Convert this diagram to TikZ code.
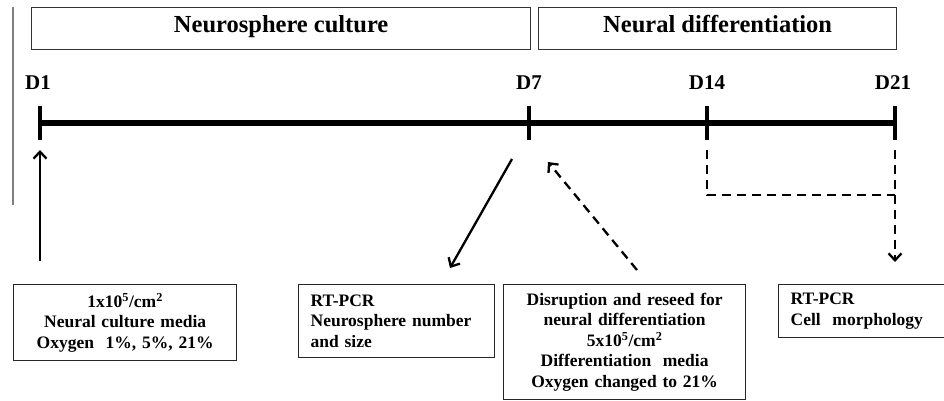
\documentclass[tikz,border=0pt]{standalone}
\usepackage{fontspec}
\setmainfont{Liberation Serif}
\usetikzlibrary{arrows.meta}
\tikzset{
  arr/.style={line width=2.3pt,-{Straight Barb[length=7pt,width=13pt]}},
  darr/.style={arr,dash pattern=on 9pt off 6pt},
  tick/.style={line width=4.5pt},
}

\begin{document}
\begin{tikzpicture}[x=1pt,y=-1pt]
  \clip (0,0) rectangle (944,401);
  \fill[white] (0,0) rectangle (944,401);
  \draw[gray,line width=1.2pt] (13,7) -- (13,205);
  \begin{scope}[every node/.style={draw=black!80,line width=1.3pt,below right,inner sep=0pt,minimum height=42pt,text height=0.82em,text depth=0.08em,font=\bfseries\fontsize{24.5}{28}\selectfont}]
  \node[minimum width=499pt] (hdr1) at (31,7) {Neurosphere culture};
  \node[minimum width=358pt] (hdr2) at (538,7) {Neural differentiation};
  \end{scope}
  \coordinate (t1) at (40,123);
  \coordinate (t7) at (529,123);
  \coordinate (t14) at (707,123);
  \coordinate (t21) at (895,123);
  \draw[line width=5pt] (t1) -- (t21);
  \foreach \t in {t1,t7,t14,t21}
    \draw[tick] ([yshift=17pt]\t) -- ([yshift=-17pt]\t);
  \begin{scope}[every node/.style={font=\bfseries\fontsize{21}{24}\selectfont,inner sep=0pt}]
  \node (d1) at (38,83) {D1};
  \node (d7) at (529,83) {D7};
  \node (d14) at (707,83) {D14};
  \node (d21) at (893,83) {D21};
  \end{scope}
  \begin{scope}[every node/.style={draw=black!85,line width=1.3pt,below right,inner xsep=12pt,inner ysep=0pt,font=\bfseries\fontsize{17.5}{20.5}\selectfont}]
  \node[text width=199pt,align=center,minimum height=76pt] (seed) at (13,284)
       {1x10\textsuperscript{5}/cm\textsuperscript{2}\\Neural culture media\\Oxygen\ \ 1\%, 5\%, 21\%};
  \node[text width=172pt,align=left,minimum height=73pt] (pcr1) at (298,284)
       {RT-PCR\\Neurosphere number\\and size};
  \node[text width=218pt,align=center,minimum height=115pt] (reseed) at (503,284)
       {Disruption and reseed for\\neural differentiation\\5x10\textsuperscript{5}/cm\textsuperscript{2}\\Differentiation\ \ media\\Oxygen changed to 21\%};
  \node[text width=220pt,align=left,minimum height=53pt] (pcr2) at (778,284)
       {RT-PCR\\Cell\ \ morphology};
  \end{scope}
  \coordinate (a1s) at (40,261);
  \coordinate (a1e) at (40,150);
  \coordinate (a2s) at (512,159);
  \coordinate (a2e) at (450,268);
  \coordinate (a3s) at (637,270);
  \coordinate (a3e) at (548,162);
  \coordinate (a4s) at (707,150);
  \coordinate (a4m) at (895,195);
  \coordinate (a5s) at (895,150);
  \coordinate (a5e) at (895,262);
  \draw[arr] (a1s) -- (a1e);
  \draw[arr] (a2s) -- (a2e);
  \draw[darr] (a3s) -- (a3e);
  \draw[line width=2.3pt,dash pattern=on 9pt off 6pt] (a4s) |- (a4m);
  \draw[darr] (a5s) -- (a5e);
\end{tikzpicture}
\end{document}
